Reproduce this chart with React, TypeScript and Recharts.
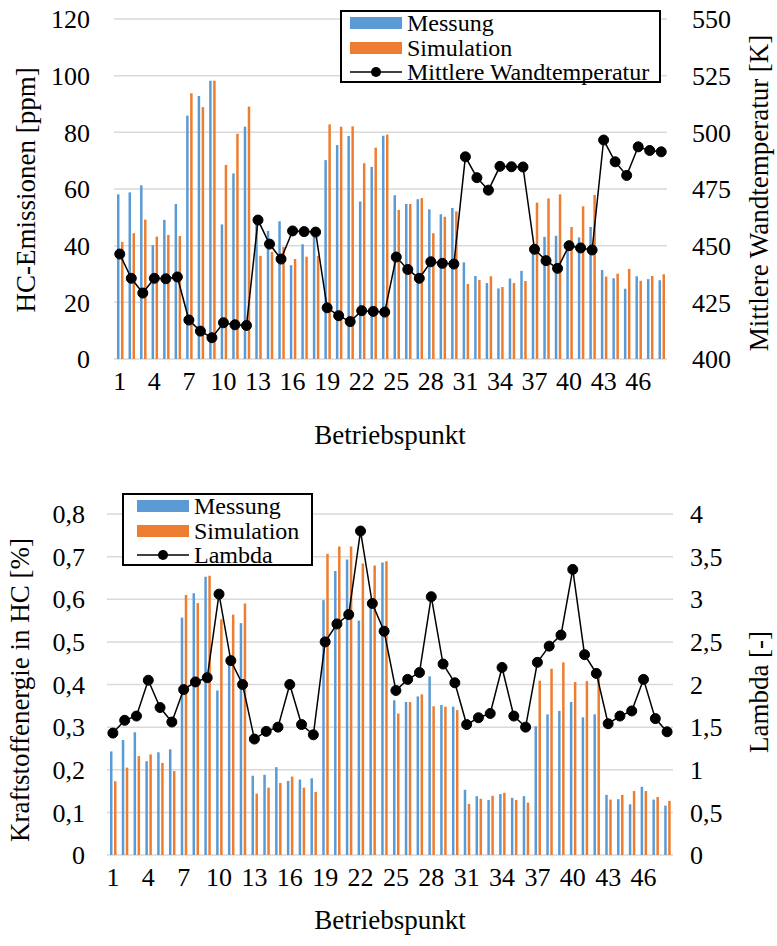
import React from "react";
import {
  ComposedChart,
  Bar,
  Line,
  XAxis,
  YAxis,
  CartesianGrid,
  Legend,
  Label,
} from "recharts";

const FONT = "'Liberation Serif', 'Times New Roman', serif";
const BLUE = "#5b9bd5";
const ORANGE = "#ed7d31";
const GRID = "#d9d9d9";

// Betriebspunkte 1..48
const betriebspunkte = [
  1, 2, 3, 4, 5, 6, 7, 8, 9, 10, 11, 12, 13, 14, 15, 16, 17, 18, 19, 20, 21, 22, 23, 24,
  25, 26, 27, 28, 29, 30, 31, 32, 33, 34, 35, 36, 37, 38, 39, 40, 41, 42, 43, 44, 45, 46, 47, 48,
];

// oben: HC-Emissionen [ppm] und Wandtemperatur [K]
const hcMessung = [
  58.1, 58.8, 61.3, 40.2, 49.1, 54.7, 85.9, 92.8, 98.2, 47.5, 65.5, 82.0, 48.0, 45.2, 48.6, 33.1,
  40.5, 44.1, 70.2, 75.5, 78.7, 55.6, 67.8, 78.8, 57.8, 54.7, 56.4, 52.8, 51.1, 53.3, 34.1, 29.3,
  26.8, 24.9, 28.4, 31.1, 38.0, 43.1, 43.5, 39.0, 42.9, 46.6, 31.4, 28.5, 24.8, 29.2, 28.2, 27.8,
];
const hcSimulation = [
  41.3, 44.4, 49.2, 43.2, 43.8, 43.4, 93.8, 88.9, 98.2, 68.5, 79.5, 89.1, 36.4, 37.8, 39.5, 35.3,
  36.1, 36.4, 82.8, 82.0, 82.1, 69.1, 74.6, 79.2, 52.6, 54.7, 56.8, 44.4, 50.2, 52.1, 26.5, 27.9,
  29.2, 25.4, 26.8, 27.5, 55.2, 56.7, 58.1, 46.6, 53.9, 57.9, 29.1, 30.1, 31.8, 27.6, 29.3, 29.9,
];
const wandtemperatur = [
  446.3, 435.6, 429.1, 435.6, 435.4, 436.2, 417.2, 412.3, 409.4, 416.0, 415.1, 414.8, 461.3, 450.7,
  444.1, 456.5, 456.2, 456.0, 422.6, 419.1, 416.5, 421.3, 421.0, 420.7, 445.0, 439.5, 435.6, 442.9,
  442.2, 441.9, 489.2, 480.0, 474.5, 485.0, 484.8, 484.7, 448.4, 443.4, 440.0, 450.0, 449.0, 448.1,
  496.6, 487.0, 481.0, 493.6, 492.0, 491.4,
];
const hcTicks = [0, 20, 40, 60, 80, 100, 120];
const tempTicks = [400, 425, 450, 475, 500, 525, 550];

// unten: Kraftstoffenergie in HC [%] und Lambda [-]
const keMessung = [
  0.243, 0.27, 0.288, 0.22, 0.241, 0.248, 0.557, 0.614, 0.653, 0.386, 0.45, 0.544, 0.186, 0.188,
  0.206, 0.174, 0.177, 0.18, 0.598, 0.666, 0.693, 0.55, 0.59, 0.686, 0.363, 0.359, 0.372, 0.419,
  0.352, 0.348, 0.153, 0.138, 0.129, 0.143, 0.134, 0.138, 0.302, 0.33, 0.338, 0.359, 0.323, 0.33,
  0.141, 0.131, 0.119, 0.16, 0.13, 0.116,
];
const keSimulation = [
  0.173, 0.205, 0.232, 0.236, 0.216, 0.197, 0.61, 0.591, 0.655, 0.553, 0.564, 0.59, 0.144, 0.158,
  0.169, 0.184, 0.158, 0.148, 0.707, 0.724, 0.724, 0.684, 0.679, 0.689, 0.332, 0.359, 0.377, 0.349,
  0.348, 0.34, 0.12, 0.132, 0.139, 0.146, 0.129, 0.123, 0.409, 0.437, 0.452, 0.406, 0.408, 0.418,
  0.13, 0.141, 0.15, 0.15, 0.136, 0.127,
];
const lambda = [
  1.43, 1.58, 1.63, 2.05, 1.73, 1.56, 1.94, 2.03, 2.08, 3.06, 2.28, 2.0, 1.36, 1.45, 1.5, 2.0, 1.53,
  1.41, 2.5, 2.71, 2.82, 3.8, 2.95, 2.625, 1.93, 2.06, 2.14, 3.03, 2.24, 2.02, 1.53, 1.61, 1.66, 2.2,
  1.63, 1.5, 2.26, 2.45, 2.58, 3.35, 2.35, 2.13, 1.54, 1.63, 1.69, 2.06, 1.6, 1.445,
];
const keTicks = [0, 0.1, 0.2, 0.3, 0.4, 0.5, 0.6, 0.7, 0.8];
const lambdaTicks = [0, 0.5, 1, 1.5, 2, 2.5, 3, 3.5, 4];

const hcData = betriebspunkte.map((bp, i) => ({
  bp,
  messung: hcMessung[i],
  simulation: hcSimulation[i],
  temp: wandtemperatur[i],
}));

const keData = betriebspunkte.map((bp, i) => ({
  bp,
  messung: keMessung[i],
  simulation: keSimulation[i],
  lambda: lambda[i],
}));

const comma = (v: number) => String(v).replace(".", ",");

const tickStyle = { fill: "#000", fontSize: 26, fontFamily: FONT };

function title(text: string, x: number, y: number, angle = 0) {
  return () => (
    <text
      x={x}
      y={y}
      transform={angle ? `rotate(${angle} ${x} ${y})` : undefined}
      textAnchor="middle"
      dominantBaseline="central"
      fill="#000"
      fontSize={27}
      fontFamily={FONT}
    >
      {text}
    </text>
  );
}

function LegendBox({ payload, swatchLeft }: any) {
  // keep Excel's order: bars first, then the line
  const items = [...(payload || [])].sort(
    (a: any, b: any) => (a.type === "line" ? 1 : 0) - (b.type === "line" ? 1 : 0) ||
      (a.value === "Messung" ? -1 : b.value === "Messung" ? 1 : 0)
  );
  return (
    <div
      style={{
        position: "relative",
        boxSizing: "border-box",
        width: "100%",
        height: "100%",
        border: "2px solid #000",
        background: "#fff",
        fontFamily: FONT,
      }}
    >
      {items.map((entry: any, i: number) => (
        <div
          key={entry.value}
          style={{
            position: "absolute",
            left: swatchLeft,
            top: -1 + i * 24.5,
            height: 24,
            display: "flex",
            alignItems: "center",
            whiteSpace: "nowrap",
          }}
        >
          <svg width={52} height={14} style={{ marginRight: 5 }}>
            {entry.type === "line" ? (
              <g>
                <line x1={0} x2={52} y1={7} y2={7} stroke="#000" strokeWidth={1.5} />
                <circle cx={26} cy={7} r={5} fill="#000" />
              </g>
            ) : (
              <rect x={0} y={1} width={52} height={12} fill={entry.color} />
            )}
          </svg>
          <span style={{ fontSize: 24, lineHeight: "24px", color: "#000" }}>{entry.value}</span>
        </div>
      ))}
    </div>
  );
}

function HcChart() {
  return (
    <ComposedChart
      width={777}
      height={460}
      data={hcData}
      margin={{ top: 19, right: 0, bottom: 0, left: 0 }}
      barSize={2.5}
      barGap={1.5}
    >
      <CartesianGrid yAxisId="l" vertical={false} stroke={GRID} strokeWidth={1.5} />
      <XAxis
        dataKey="bp"
        interval={2}
        axisLine={false}
        tickLine={false}
        tickSize={0}
        tickMargin={13}
        height={101}
        tick={tickStyle}
      >
        <Label content={title("Betriebspunkt", 390, 435)} />
      </XAxis>
      <YAxis
        yAxisId="l"
        domain={[0, 120]}
        ticks={hcTicks}
        width={114}
        axisLine={false}
        tickLine={false}
        tickSize={0}
        tickMargin={24}
        tick={tickStyle}
      >
        <Label content={title("HC-Emissionen [ppm]", 26, 190, -90)} />
      </YAxis>
      <YAxis
        yAxisId="r"
        orientation="right"
        domain={[400, 550]}
        ticks={tempTicks}
        width={110}
        axisLine={false}
        tickLine={false}
        tickSize={0}
        tickMargin={25}
        tick={tickStyle}
      >
        <Label content={title("Mittlere Wandtemperatur [K]", 759, 193, -90)} />
      </YAxis>
      <Legend
        layout="horizontal"
        verticalAlign="middle"
        align="center"
        wrapperStyle={{ left: 340, top: 10, width: 321, height: 73 }}
        content={(props: any) => <LegendBox payload={props.payload} swatchLeft={8} />}
      />
      <Bar yAxisId="l" dataKey="messung" name="Messung" fill={BLUE} isAnimationActive={false} />
      <Bar yAxisId="l" dataKey="simulation" name="Simulation" fill={ORANGE} isAnimationActive={false} />
      <Line
        yAxisId="r"
        dataKey="temp"
        name="Mittlere Wandtemperatur"
        type="linear"
        stroke="#000"
        strokeWidth={1.5}
        dot={{ r: 5, fill: "#000", stroke: "#000", strokeWidth: 1 }}
        activeDot={false}
        legendType="line"
        isAnimationActive={false}
      />
    </ComposedChart>
  );
}

function KeChart() {
  return (
    <ComposedChart
      width={777}
      height={486}
      data={keData}
      margin={{ top: 54, right: 0, bottom: 0, left: 0 }}
      barSize={2.5}
      barGap={1.5}
    >
      <CartesianGrid yAxisId="l" vertical={false} stroke={GRID} strokeWidth={1.5} />
      <XAxis
        dataKey="bp"
        interval={2}
        axisLine={false}
        tickLine={false}
        tickSize={0}
        tickMargin={13}
        height={91}
        tick={tickStyle}
      >
        <Label content={title("Betriebspunkt", 390, 460)} />
      </XAxis>
      <YAxis
        yAxisId="l"
        domain={[0, 0.8]}
        ticks={keTicks}
        tickFormatter={comma}
        width={107}
        axisLine={false}
        tickLine={false}
        tickSize={0}
        tickMargin={22}
        tick={tickStyle}
      >
        <Label content={title("Kraftstoffenergie in HC [%]", 20, 230, -90)} />
      </YAxis>
      <YAxis
        yAxisId="r"
        orientation="right"
        domain={[0, 4]}
        ticks={lambdaTicks}
        tickFormatter={comma}
        width={104}
        axisLine={false}
        tickLine={false}
        tickSize={0}
        tickMargin={17}
        tick={tickStyle}
      >
        <Label content={title("Lambda [-]", 759, 232, -90)} />
      </YAxis>
      <Legend
        layout="horizontal"
        verticalAlign="middle"
        align="center"
        wrapperStyle={{ left: 122, top: 33, width: 191, height: 73 }}
        content={(props: any) => <LegendBox payload={props.payload} swatchLeft={13} />}
      />
      <Bar yAxisId="l" dataKey="messung" name="Messung" fill={BLUE} isAnimationActive={false} />
      <Bar yAxisId="l" dataKey="simulation" name="Simulation" fill={ORANGE} isAnimationActive={false} />
      <Line
        yAxisId="r"
        dataKey="lambda"
        name="Lambda"
        type="linear"
        stroke="#000"
        strokeWidth={1.5}
        dot={{ r: 5, fill: "#000", stroke: "#000", strokeWidth: 1 }}
        activeDot={false}
        legendType="line"
        isAnimationActive={false}
      />
    </ComposedChart>
  );
}

export default function App() {
  return (
    <div
      style={{
        position: "absolute",
        left: 0,
        top: 0,
        width: 777,
        height: 946,
        background: "#fff",
        fontFamily: FONT,
      }}
    >
      <div style={{ position: "absolute", left: 0, top: 0 }}>
        <HcChart />
      </div>
      <div style={{ position: "absolute", left: 0, top: 460 }}>
        <KeChart />
      </div>
    </div>
  );
}
